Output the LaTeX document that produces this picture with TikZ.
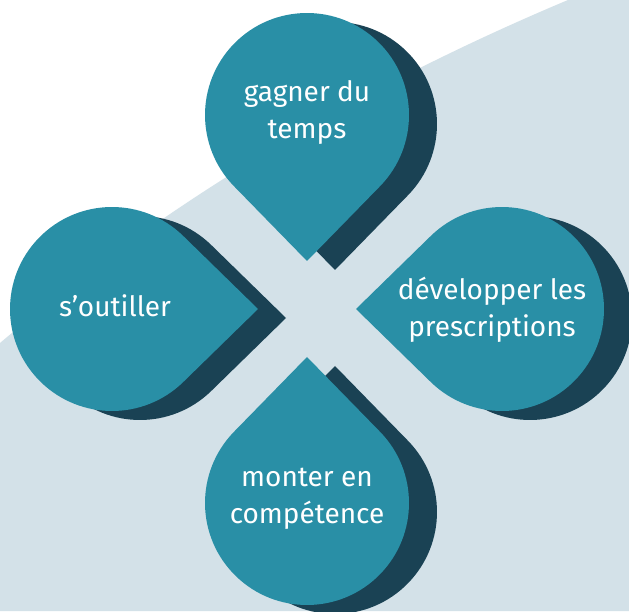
\documentclass[tikz,border=0pt]{standalone}
\usepackage{fontspec}
\setmainfont{Fira Sans}
\usetikzlibrary{calc}
\definecolor{dropteal}{RGB}{41,143,166}
\definecolor{dropdark}{RGB}{26,66,84}
\definecolor{bandblue}{RGB}{211,225,232}
\newcommand\mydrop[4]{% cx, cy, tip direction, colour
  \fill[#4] ($(#1,#2)+(#3:146pt)$) -- ($(#1,#2)+(#3+45.7:102pt)$)
    arc[start angle=#3+45.7, end angle=#3+314.3, radius=102pt] -- cycle;}
\newcommand\mypair[3]{% cx, cy, direction
  \mydrop{#1+28}{#2-9}{#3}{dropdark}
  \mydrop{#1}{#2}{#3}{dropteal}}
\tikzset{lbl/.style={text=white, font=\fontsize{28}{37}\selectfont, align=center, inner sep=0pt}}
\begin{document}
\begin{tikzpicture}[x=1pt,y=1pt]
\useasboundingbox (0,0) rectangle (629,611);
\fill[white] (0,0) rectangle (629,611);
\fill[bandblue] (0,268) .. controls (162,405.3) and (351.3,520) .. (568,611) -- (629,611) -- (629,0) -- (0,0) -- cycle;
\mypair{307}{496}{-90}
\mypair{502}{302}{180}
\mypair{307}{108}{90}
\mypair{112}{302}{0}
\node[lbl] (top) at (307,499) {gagner du\\temps};
\node[lbl] (right) at (492,301) {développer les\\prescriptions};
\node[lbl] (bottom) at (307,112.5) {monter en\\compétence};
\node[lbl] (left) at (115,305.5) {s’outiller};
\end{tikzpicture}
\end{document}
